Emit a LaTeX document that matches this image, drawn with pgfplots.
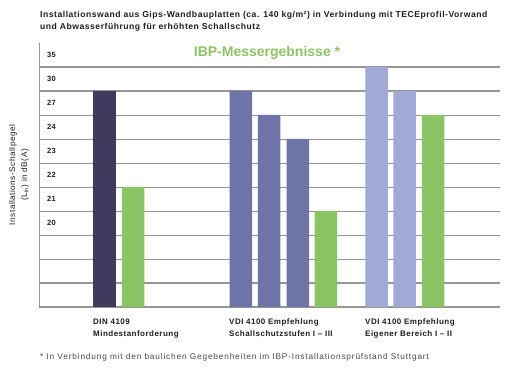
\documentclass[border=0pt]{standalone}
\usepackage{pgfplots}
\pgfplotsset{compat=1.18}
\usepackage{fontspec}
\setmainfont{Liberation Sans}
\newfontfamily\lsA[LetterSpace=6]{Liberation Sans}
\newfontfamily\lsB[LetterSpace=10]{Liberation Sans}
\definecolor{darkbar}{RGB}{63,58,94}
\definecolor{midbar}{RGB}{110,116,168}
\definecolor{lightbar}{RGB}{163,169,214}
\definecolor{greenbar}{RGB}{139,197,99}
\definecolor{gridgray}{RGB}{150,150,150}
\definecolor{txt}{RGB}{30,30,30}
\begin{document}
\begin{tikzpicture}[x=1pt,y=1pt]
\path (0,0) rectangle (510,369);
\begin{axis}[
  at={(39pt,62pt)}, anchor=south west,
  scale only axis, width=461pt, height=264pt,
  xmin=39, xmax=500, ymin=0, ymax=11,
  axis x line*=bottom, axis y line*=left,
  x axis line style={draw=gridgray, line width=1.6pt, -},
  y axis line style={draw=gridgray, line width=0.8pt, -},
  xtick=\empty,
  ytick={3.5,4.5,5.5,6.5,7.5,8.5,9.5,10.5},
  yticklabels={20,21,22,23,24,27,30,35},
  minor ytick={1,2,3,4,5,6,7,8,9,10},
  yminorgrids=true,
  minor grid style={draw=gridgray, line width=0.8pt},
  extra y ticks={1,9,10},
  extra y tick labels={},
  extra y tick style={ymajorgrids=true, major grid style={draw=gridgray, line width=1.6pt}},
  major tick length=0pt, minor tick length=0pt,
  /pgf/number format/assume math mode=true,
  yticklabel style={anchor=west, xshift=4.5pt, font=\lsA\bfseries\fontsize{7.5}{9}\selectfont, text=txt},
]
\addplot[ybar, bar width=22.5, bar shift=0pt, fill=darkbar, draw=none] coordinates {(104.7,9)};
\addplot[ybar, bar width=22.5, bar shift=0pt, fill=midbar, draw=none] coordinates {(240.8,9) (269.2,8) (297.8,7)};
\addplot[ybar, bar width=22.5, bar shift=0pt, fill=lightbar, draw=none] coordinates {(376.5,10) (404.5,9)};
\addplot[ybar, bar width=22.5, bar shift=0pt, fill=greenbar, draw=none] coordinates {(133,5) (325.8,4) (433,8)};
\end{axis}
% title
\node[anchor=base west, inner sep=0, font=\lsA\bfseries\fontsize{8.6}{11}\selectfont, text=txt] at (40,351) {Installationswand aus Gips-Wandbauplatten (ca. 140 kg/m²) in Verbindung mit TECEprofil-Vorwand};
\node[anchor=base west, inner sep=0, font=\lsA\bfseries\fontsize{8.6}{11}\selectfont, text=txt] at (40,339) {und Abwasserführung für erhöhten Schallschutz};
% subtitle
\node[anchor=base, inner sep=0, font=\bfseries\fontsize{14}{16}\selectfont, text=greenbar] at (267,312) {IBP-Messergebnisse *};
% y label
\node[rotate=90, anchor=center, align=center, inner sep=0, font=\lsA\fontsize{8.2}{12}\selectfont, text=txt] at (19,194) {Installations-Schallpegel\\(L\textsubscript{In}) in dB(A)};
% category labels
\foreach \xx/\la/\lb in {93/DIN 4109/Mindestanforderung, 229/VDI 4100 Empfehlung/Schallschutzstufen I – III, 365/VDI 4100 Empfehlung/Eigener Bereich I – II}{
  \node[anchor=base west, inner sep=0, font=\lsA\bfseries\fontsize{8}{10}\selectfont, text=txt] at (\xx,45) {\la};
  \node[anchor=base west, inner sep=0, font=\lsA\bfseries\fontsize{8}{10}\selectfont, text=txt] at (\xx,33) {\lb};
}
% footnote
\node[anchor=base west, inner sep=0, font=\lsB\fontsize{8.3}{10}\selectfont, text={rgb,255:red,70;green,70;blue,70}] at (40,10) {* In Verbindung mit den baulichen Gegebenheiten im IBP-Installationsprüfstand Stuttgart};
\end{tikzpicture}
\end{document}
